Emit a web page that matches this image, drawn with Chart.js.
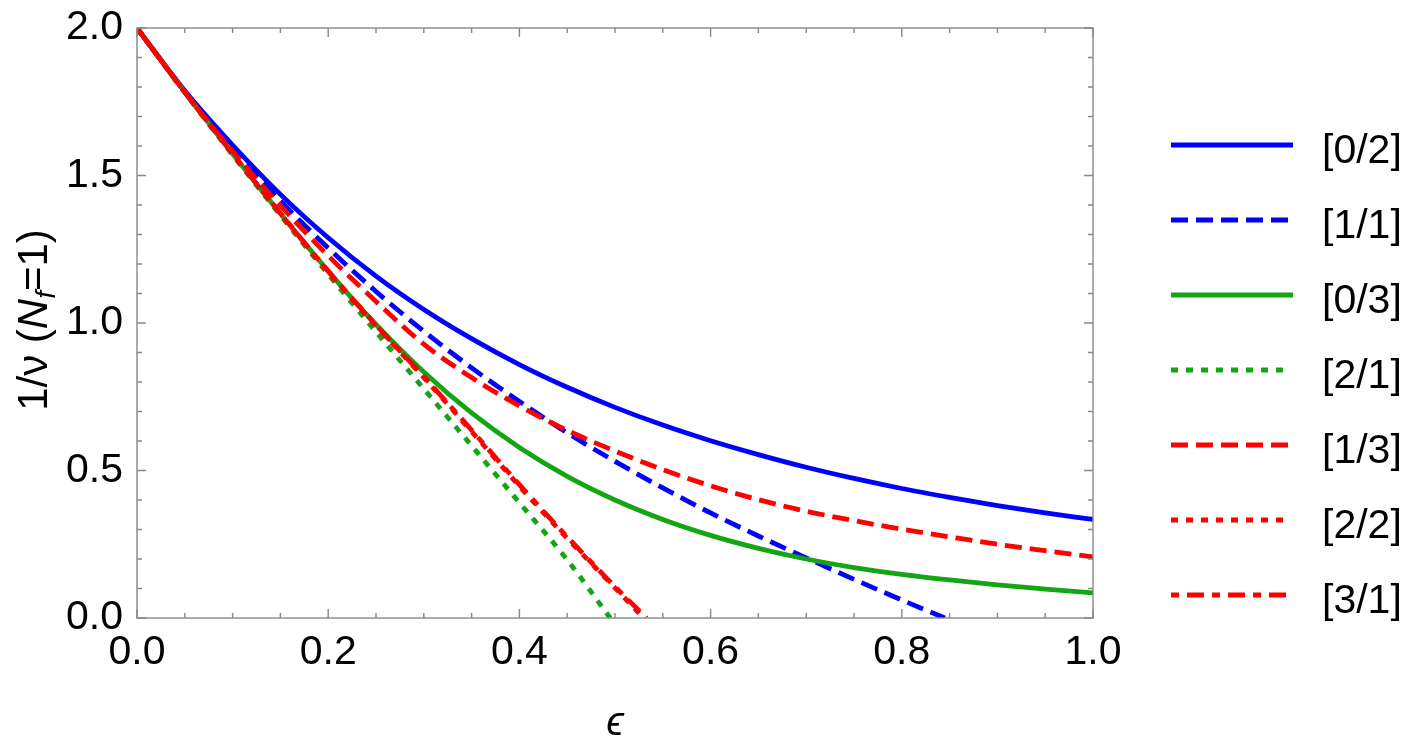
<!DOCTYPE html>
<html>
<head>
<meta charset="utf-8">
<script src="https://cdn.jsdelivr.net/npm/chart.js@4.4.1/dist/chart.umd.min.js"></script>
<style>
  html, body { margin: 0; padding: 0; background: #fff; }
  canvas { display: block; }
</style>
</head>
<body>
<canvas id="chart" width="1423" height="753"></canvas>
<script>
// epsilon grid and the values
const eps   = [0, 0.05, 0.1, 0.15, 0.2, 0.25, 0.3, 0.35, 0.4, 0.45, 0.5, 0.55, 0.6, 0.65, 0.7, 0.75, 0.8, 0.85, 0.9, 0.95, 1.0];
const eps11 = [0, 0.05, 0.1, 0.15, 0.2, 0.25, 0.3, 0.35, 0.4, 0.45, 0.5, 0.55, 0.6, 0.65, 0.7, 0.75, 0.8, 0.845];
const eps21 = [0, 0.05, 0.1, 0.15, 0.2, 0.25, 0.3, 0.35, 0.4, 0.45, 0.495];
const eps22 = [0, 0.05, 0.1, 0.15, 0.2, 0.25, 0.3, 0.35, 0.4, 0.45, 0.5, 0.53];
const eps31 = [0, 0.05, 0.1, 0.15, 0.2, 0.25, 0.3, 0.35, 0.4, 0.45, 0.5, 0.533];

const pade02 = [2, 1.787, 1.603, 1.436, 1.289, 1.159, 1.046, 0.947, 0.859, 0.782, 0.714, 0.654, 0.601, 0.554, 0.511, 0.473, 0.439, 0.409, 0.381, 0.356, 0.334];
const pade11 = [2, 1.785, 1.590, 1.414, 1.254, 1.107, 0.972, 0.848, 0.734, 0.628, 0.531, 0.441, 0.356, 0.278, 0.204, 0.131, 0.061, 0];
const pade03 = [2, 1.783, 1.574, 1.371, 1.176, 0.995, 0.834, 0.695, 0.578, 0.480, 0.400, 0.334, 0.280, 0.236, 0.200, 0.171, 0.148, 0.129, 0.112, 0.098, 0.085];
const pade21 = [2, 1.781, 1.570, 1.365, 1.165, 0.970, 0.777, 0.584, 0.391, 0.197, 0];
const pade13 = [2, 1.783, 1.582, 1.398, 1.228, 1.073, 0.928, 0.815, 0.719, 0.636, 0.566, 0.503, 0.448, 0.401, 0.362, 0.330, 0.301, 0.275, 0.250, 0.228, 0.207];
const pade22 = [2, 1.782, 1.573, 1.370, 1.172, 0.990, 0.815, 0.632, 0.447, 0.270, 0.102, 0];
const pade31 = [2, 1.782, 1.574, 1.372, 1.176, 0.993, 0.818, 0.637, 0.452, 0.275, 0.106, 0];

const labels = ['[0/2]', '[1/1]', '[0/3]', '[2/1]', '[1/3]', '[2/2]', '[3/1]'];
const xTicks = [0, 0.2, 0.4, 0.6, 0.8, 1.0];
const yTicks = [0, 0.5, 1.0, 1.5, 2.0];

const BLUE = '#0000ff';
const GREEN = '#14a514';
const RED = '#ff0000';
const FONT = '"Liberation Sans", Arial, "DejaVu Sans", sans-serif';

const styles = [
    { color: BLUE,  dash: [] },
    { color: BLUE,  dash: [17, 8] },
    { color: GREEN, dash: [] },
    { color: GREEN, dash: [7, 8] },
    { color: RED,   dash: [17, 8] },
    { color: RED,   dash: [7, 8] },
    { color: RED,   dash: [8, 8, 17, 8] }
];

const xsList = [eps, eps11, eps, eps21, eps, eps22, eps31];
const ysList = [pade02, pade11, pade03, pade21, pade13, pade22, pade31];

const datasets = labels.map((label, i) => ({
    label: label,
    data: xsList[i].map((x, k) => ({ x: x, y: ysList[i][k] })),
    borderColor: styles[i].color,
    borderDash: styles[i].dash,
    borderWidth: 4.8,
    pointRadius: 0,
    fill: false,
    cubicInterpolationMode: 'monotone',
    order: labels.length - i   // later series drawn on top
}));

// frame, tick marks, axis titles and legend
const framePlugin = {
    id: 'frame',
    afterDatasetsDraw(chart) {
        const ctx = chart.ctx;
        const { left, right, top, bottom } = chart.chartArea;
        const xs = chart.scales.x, ys = chart.scales.y;
        ctx.save();
        ctx.strokeStyle = '#888888';
        ctx.lineWidth = 1.4;
        ctx.setLineDash([]);
        ctx.strokeRect(left, top, right - left, bottom - top);

        ctx.beginPath();
        for (let i = 0; i <= 20; i++) {
            const px = xs.getPixelForValue(i * 0.05);
            const len = i % 4 === 0 ? 9 : 5;
            ctx.moveTo(px, bottom); ctx.lineTo(px, bottom - len);
            ctx.moveTo(px, top); ctx.lineTo(px, top + len);
        }
        for (let i = 0; i <= 20; i++) {
            const py = ys.getPixelForValue(i * 0.1);
            const len = i % 5 === 0 ? 9 : 5;
            ctx.moveTo(left, py); ctx.lineTo(left + len, py);
            ctx.moveTo(right, py); ctx.lineTo(right - len, py);
        }
        ctx.stroke();
        ctx.restore();
    },
    afterDraw(chart) {
        const ctx = chart.ctx;
        const { left, right } = chart.chartArea;
        ctx.save();
        ctx.fillStyle = '#000';

        // x title
        ctx.font = 'italic 40px ' + FONT;
        ctx.textAlign = 'center';
        ctx.textBaseline = 'alphabetic';
        ctx.fillText('\u03f5', (left + right) / 2, 735);

        // y title, rotated
        ctx.translate(47, 320);
        ctx.rotate(-Math.PI / 2);
        const parts = [
            { t: '1/\u03bd (', f: '42px ' + FONT, dy: 0 },
            { t: 'N', f: 'italic 42px ' + FONT, dy: 0 },
            { t: 'f', f: 'italic 28px ' + FONT, dy: 8 },
            { t: '=1)', f: '42px ' + FONT, dy: 0 }
        ];
        let total = 0;
        parts.forEach(p => { ctx.font = p.f; p.w = ctx.measureText(p.t).width; total += p.w; });
        let u = -total / 2;
        ctx.textAlign = 'left';
        parts.forEach(p => { ctx.font = p.f; ctx.fillText(p.t, u, p.dy); u += p.w; });
        ctx.restore();

        // legend
        ctx.save();
        labels.forEach((label, i) => {
            const y = 145 + i * 75;
            ctx.strokeStyle = styles[i].color;
            ctx.lineWidth = 4.8;
            ctx.setLineDash(styles[i].dash);
            ctx.beginPath();
            ctx.moveTo(1171, y);
            ctx.lineTo(styles[i].dash.length ? 1290 : 1293, y);
            ctx.stroke();
            ctx.setLineDash([]);
            ctx.fillStyle = '#000';
            ctx.font = '41px ' + FONT;
            ctx.textAlign = 'left';
            ctx.textBaseline = 'alphabetic';
            ctx.fillText(label, 1322, y + 18);
        });
        ctx.restore();
    }
};

new Chart(document.getElementById('chart'), {
    type: 'line',
    data: { datasets: datasets },
    options: {
        responsive: false,
        maintainAspectRatio: false,
        devicePixelRatio: 1,
        animation: false,
        layout: { padding: { left: 0, top: 28, right: 330, bottom: 0 } },
        plugins: { legend: { display: false }, tooltip: { enabled: false } },
        scales: {
            x: {
                type: 'linear',
                min: 0, max: 1,
                grid: { display: false, drawTicks: false },
                border: { display: false },
                afterBuildTicks: s => { s.ticks = xTicks.map(v => ({ value: v })); },
                afterFit: s => {
                    s.height = 753 - 618;
                    s.paddingLeft = 0; s.paddingRight = 0;
                },
                ticks: {
                    color: '#000',
                    padding: 10,
                    maxRotation: 0,
                    font: { family: FONT, size: 41 },
                    callback: v => Number(v).toFixed(1)
                }
            },
            y: {
                type: 'linear',
                min: 0, max: 2,
                grid: { display: false, drawTicks: false },
                border: { display: false },
                afterBuildTicks: s => { s.ticks = yTicks.map(v => ({ value: v })); },
                afterFit: s => {
                    s.width = 137;
                    s.paddingTop = 0; s.paddingBottom = 0;
                },
                ticks: {
                    color: '#000',
                    padding: 14,
                    font: { family: FONT, size: 41 },
                    callback: v => Number(v).toFixed(1)
                }
            }
        }
    },
    plugins: [framePlugin]
});
</script>
</body>
</html>
